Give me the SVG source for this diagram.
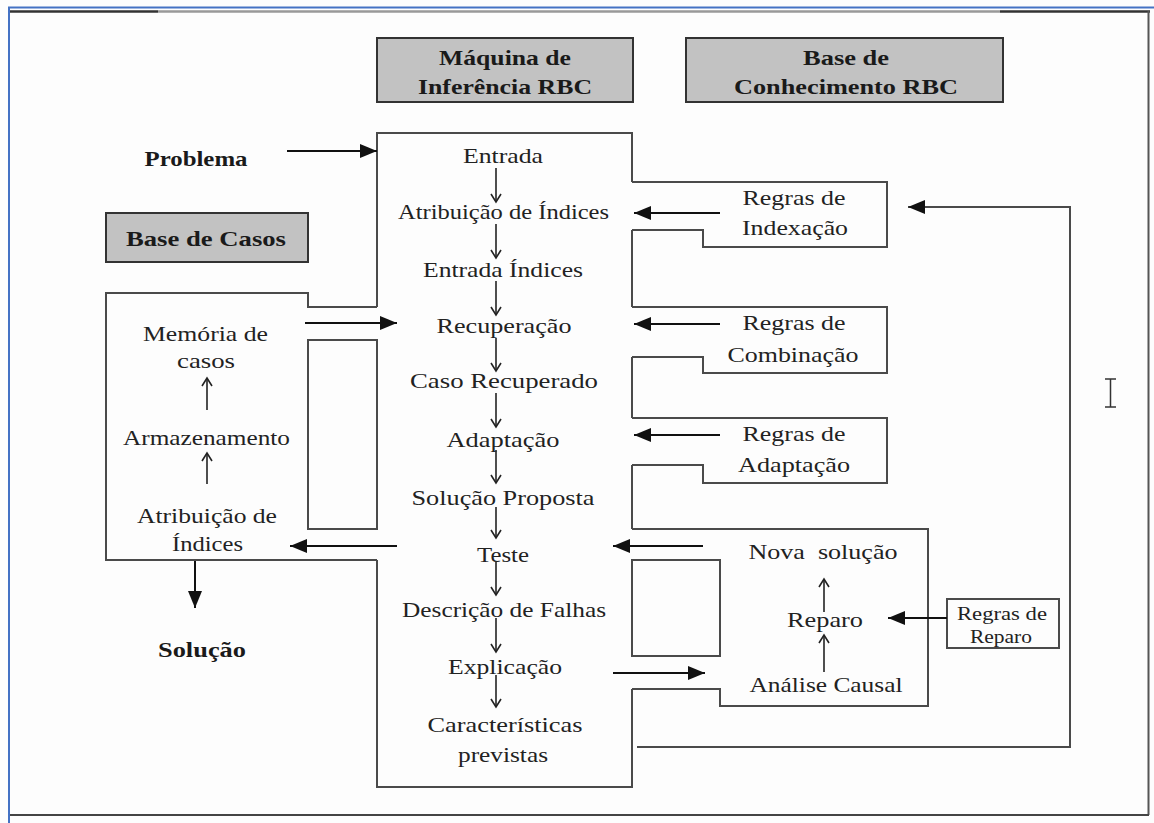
<svg xmlns="http://www.w3.org/2000/svg" width="1154" height="823" viewBox="0 0 1154 823">
  <style>
    .t { font-family: "Liberation Serif", Tinos, "Times New Roman", Times, "Nimbus Roman", serif; font-size: 22px; fill: #222; text-anchor: middle; }
    .b { font-weight: bold; fill: #1a1a1a; }
    .sm { font-size: 19px; }
    .box { fill: none; stroke: #4a4a4a; stroke-width: 2; stroke-linejoin: miter; }
    .hdr { fill: #c2c2c2; stroke: #333; stroke-width: 2; }
    .con { fill: none; stroke: #111; stroke-width: 2; }
    .thin { fill: none; stroke: #222; stroke-width: 1.6; }
  </style>
  <defs>
    <marker id="tri" markerUnits="userSpaceOnUse" markerWidth="18" markerHeight="14" refX="17" refY="7" orient="auto">
      <path d="M0,0 L17,7 L0,14 Z" fill="#111"/>
    </marker>
    <marker id="vee" markerUnits="userSpaceOnUse" markerWidth="12" markerHeight="12" refX="9" refY="6" orient="auto">
      <path d="M1,1 L9,6 L1,11" fill="none" stroke="#222" stroke-width="1.6"/>
    </marker>
  </defs>

  <rect width="1154" height="823" fill="#fdfdfd"/>

  <!-- page frame -->
  <g id="page-frame">
    <line x1="8" y1="7.5" x2="1154" y2="7.5" stroke="#4472c4" stroke-width="2"/>
    <line x1="9" y1="7" x2="9" y2="823" stroke="#4472c4" stroke-width="2"/>
    <line x1="10" y1="11.5" x2="158" y2="11.5" stroke="#333" stroke-width="2.5"/>
    <line x1="158" y1="11.5" x2="1000" y2="11.5" stroke="#999" stroke-width="2.5"/>
    <line x1="1000" y1="11.5" x2="1150" y2="11.5" stroke="#333" stroke-width="2.5"/>
    <line x1="1148.5" y1="11" x2="1148.5" y2="815" stroke="#555" stroke-width="2"/>
    <line x1="10" y1="815" x2="1149" y2="815" stroke="#444" stroke-width="2"/>
  </g>

  <!-- section headers -->
  <g id="hdr-maquina">
    <rect class="hdr" x="377" y="38" width="256" height="64"/>
    <text class="t b" x="505" y="65" textLength="132" lengthAdjust="spacingAndGlyphs">Máquina de</text>
    <text class="t b" x="505" y="94" textLength="174" lengthAdjust="spacingAndGlyphs">Inferência RBC</text>
  </g>
  <g id="hdr-conhecimento">
    <rect class="hdr" x="686" y="38" width="317" height="64"/>
    <text class="t b" x="846" y="65" textLength="86" lengthAdjust="spacingAndGlyphs">Base de</text>
    <text class="t b" x="846" y="94" textLength="224" lengthAdjust="spacingAndGlyphs">Conhecimento RBC</text>
  </g>
  <g id="hdr-casos">
    <rect class="hdr" x="106" y="213" width="202" height="49"/>
    <text class="t b" x="206" y="246" textLength="160" lengthAdjust="spacingAndGlyphs">Base de Casos</text>
  </g>

  <g id="problema">
    <text class="t b" x="196" y="166" textLength="103" lengthAdjust="spacingAndGlyphs">Problema</text>
  </g>
  <g id="solucao">
    <text class="t b" x="202" y="657" textLength="88" lengthAdjust="spacingAndGlyphs">Solução</text>
  </g>

  <!-- inference engine column -->
  <g id="maquina-inferencia">
    <path class="box" d="M377,307 V133 H632 V182 M632,230 V307 M632,357 V418 M632,465 V529 M632,689 V787 H377 V560"/>
    <rect class="box" x="308" y="340" width="69" height="189"/>
    <rect class="box" x="632" y="560" width="88" height="96"/>
    <text class="t" x="503" y="163" textLength="80" lengthAdjust="spacingAndGlyphs">Entrada</text>
    <text class="t" x="503.5" y="219" textLength="211" lengthAdjust="spacingAndGlyphs">Atribuição de Índices</text>
    <text class="t" x="503" y="277" textLength="160" lengthAdjust="spacingAndGlyphs">Entrada Índices</text>
    <text class="t" x="504" y="333" textLength="135" lengthAdjust="spacingAndGlyphs">Recuperação</text>
    <text class="t" x="504" y="388" textLength="188" lengthAdjust="spacingAndGlyphs">Caso Recuperado</text>
    <text class="t" x="503" y="447" textLength="113" lengthAdjust="spacingAndGlyphs">Adaptação</text>
    <text class="t" x="503" y="505" textLength="183" lengthAdjust="spacingAndGlyphs">Solução Proposta</text>
    <text class="t" x="503" y="562" textLength="52" lengthAdjust="spacingAndGlyphs">Teste</text>
    <text class="t" x="504" y="617" textLength="204" lengthAdjust="spacingAndGlyphs">Descrição de Falhas</text>
    <text class="t" x="505" y="674" textLength="114" lengthAdjust="spacingAndGlyphs">Explicação</text>
    <text class="t" x="505" y="732" textLength="155" lengthAdjust="spacingAndGlyphs">Características</text>
    <text class="t" x="503" y="762" textLength="90" lengthAdjust="spacingAndGlyphs">previstas</text>
  </g>

  <!-- case memory -->
  <g id="base-casos">
    <path class="box" d="M377,560 H106 V293 H308 V307 H377"/>
    <text class="t" x="205.5" y="341" textLength="125" lengthAdjust="spacingAndGlyphs">Memória de</text>
    <text class="t" x="206" y="368" textLength="58" lengthAdjust="spacingAndGlyphs">casos</text>
    <text class="t" x="206.5" y="445" textLength="167" lengthAdjust="spacingAndGlyphs">Armazenamento</text>
    <text class="t" x="207" y="523" textLength="140" lengthAdjust="spacingAndGlyphs">Atribuição de</text>
    <text class="t" x="207.5" y="551" textLength="71" lengthAdjust="spacingAndGlyphs">Índices</text>
  </g>

  <!-- knowledge base rules -->
  <g id="regras-indexacao">
    <path class="box" d="M632,182 H887 V247 H703 V230 H632"/>
    <text class="t" x="794" y="205" textLength="103" lengthAdjust="spacingAndGlyphs">Regras de</text>
    <text class="t" x="795" y="235" textLength="106" lengthAdjust="spacingAndGlyphs">Indexação</text>
  </g>
  <g id="regras-combinacao">
    <path class="box" d="M632,307 H887 V373 H703 V357 H632"/>
    <text class="t" x="794" y="330" textLength="103" lengthAdjust="spacingAndGlyphs">Regras de</text>
    <text class="t" x="793" y="362" textLength="131" lengthAdjust="spacingAndGlyphs">Combinação</text>
  </g>
  <g id="regras-adaptacao">
    <path class="box" d="M632,418 H887 V483 H703 V465 H632"/>
    <text class="t" x="794" y="441" textLength="103" lengthAdjust="spacingAndGlyphs">Regras de</text>
    <text class="t" x="794" y="472" textLength="112" lengthAdjust="spacingAndGlyphs">Adaptação</text>
  </g>

  <!-- repair cycle -->
  <g id="revisao">
    <path class="box" d="M632,529 H928 V706 H720 V689 H632"/>
    <text class="t" x="823" y="559" textLength="149" lengthAdjust="spacingAndGlyphs" style="white-space:pre">Nova  solução</text>
    <text class="t" x="825" y="627" textLength="76" lengthAdjust="spacingAndGlyphs">Reparo</text>
    <text class="t" x="826" y="692" textLength="153" lengthAdjust="spacingAndGlyphs">Análise Causal</text>
  </g>
  <g id="regras-reparo">
    <rect class="box" x="947" y="599" width="112" height="49"/>
    <text class="t sm" x="1002" y="620" textLength="90" lengthAdjust="spacingAndGlyphs">Regras de</text>
    <text class="t sm" x="1001" y="643" textLength="62" lengthAdjust="spacingAndGlyphs">Reparo</text>
  </g>

  <!-- connectors -->
  <g id="connectors">
    <line class="con" x1="287" y1="151" x2="377" y2="151" marker-end="url(#tri)"/>
    <line class="con" x1="305" y1="323" x2="397" y2="323" marker-end="url(#tri)"/>
    <line class="con" x1="397" y1="546" x2="290" y2="546" marker-end="url(#tri)"/>
    <line class="con" x1="195" y1="561" x2="195" y2="608" marker-end="url(#tri)"/>
    <line class="con" x1="720" y1="213" x2="634" y2="213" marker-end="url(#tri)"/>
    <line class="con" x1="720" y1="324" x2="634" y2="324" marker-end="url(#tri)"/>
    <line class="con" x1="720" y1="435" x2="634" y2="435" marker-end="url(#tri)"/>
    <line class="con" x1="703" y1="546" x2="613" y2="546" marker-end="url(#tri)"/>
    <line class="con" x1="613" y1="673" x2="705" y2="673" marker-end="url(#tri)"/>
    <line class="con" x1="947" y1="618" x2="888" y2="618" marker-end="url(#tri)"/>
    <path class="box" d="M637,747 H1070 V207 H908" marker-end="url(#tri)"/>

    <line class="thin" x1="496" y1="168" x2="496" y2="202" marker-end="url(#vee)"/>
    <line class="thin" x1="496" y1="224" x2="496" y2="258" marker-end="url(#vee)"/>
    <line class="thin" x1="496" y1="281" x2="496" y2="315" marker-end="url(#vee)"/>
    <line class="thin" x1="496" y1="338" x2="496" y2="371" marker-end="url(#vee)"/>
    <line class="thin" x1="496" y1="393" x2="496" y2="427" marker-end="url(#vee)"/>
    <line class="thin" x1="496" y1="450" x2="496" y2="483" marker-end="url(#vee)"/>
    <line class="thin" x1="496" y1="507" x2="496" y2="538" marker-end="url(#vee)"/>
    <line class="thin" x1="496" y1="562" x2="496" y2="595" marker-end="url(#vee)"/>
    <line class="thin" x1="496" y1="618" x2="496" y2="652" marker-end="url(#vee)"/>
    <line class="thin" x1="496" y1="675" x2="496" y2="707" marker-end="url(#vee)"/>

    <line class="thin" x1="207" y1="410" x2="207" y2="378" marker-end="url(#vee)"/>
    <line class="thin" x1="207" y1="484" x2="207" y2="453" marker-end="url(#vee)"/>
    <line class="thin" x1="824" y1="612" x2="824" y2="579" marker-end="url(#vee)"/>
    <line class="thin" x1="824" y1="672" x2="824" y2="635" marker-end="url(#vee)"/>
  </g>

  <!-- text cursor -->
  <path d="M1105,379 H1116 M1110.5,379 V407 M1105,407 H1116" fill="none" stroke="#333" stroke-width="1.5"/>
</svg>
